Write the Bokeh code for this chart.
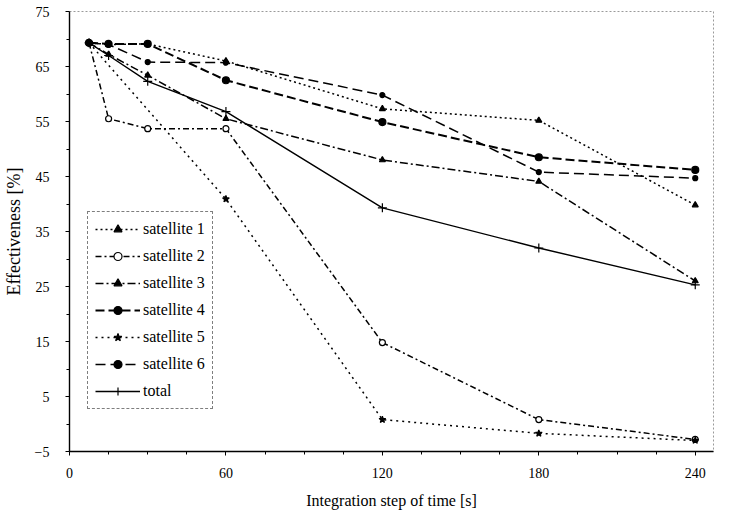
from bokeh.plotting import figure
from bokeh.models import FixedTicker, Legend, LegendItem, Range1d
from bokeh.embed import file_html
from bokeh.resources import INLINE

# ---- data ----
x_steps = [7.5, 15, 30, 60, 120, 180, 240]
sat1 = [69.3, 69.0, 69.1, 66.0, 57.3, 55.2, 39.8]
sat2 = [69.3, 55.5, 53.7, 53.7, 14.8, 0.8, -2.8]
sat3 = [69.3, 67.2, 63.4, 55.5, 48.0, 44.1, 26.0]
sat4 = [69.3, 69.1, 69.1, 62.5, 54.9, 48.5, 46.2]
x_sat5 = [7.5, 60, 120, 180, 240]
sat5 = [69.3, 40.9, 0.8, -1.7, -3.0]
sat6 = [69.3, 69.0, 65.8, 65.7, 59.8, 45.8, 44.7]
total = [69.3, 67.0, 62.3, 56.8, 39.3, 32.0, 25.3]

labels = ["satellite 1", "satellite 2", "satellite 3", "satellite 4",
          "satellite 5", "satellite 6", "total"]
y_ticks = [-5, 5, 15, 25, 35, 45, 55, 65, 75]
x_ticks = [0, 60, 120, 180, 240]

FONT = "Liberation Serif"

p = figure(width=714, height=511, output_backend="svg", toolbar_location=None,
           x_range=Range1d(0, 247), y_range=Range1d(-5, 75),
           min_border_left=67, min_border_right=1, min_border_top=11,
           min_border_bottom=59)
p.background_fill_color = "white"
p.border_fill_color = "white"
p.outline_line_color = "#9a9a9a"
p.outline_line_dash = "2 2"
p.xgrid.visible = False
p.ygrid.visible = False

for ax in (p.xaxis[0], p.yaxis[0]):
    ax.axis_line_color = "black"
    ax.axis_line_width = 1.4
    ax.major_tick_line_color = "black"
    ax.minor_tick_line_color = "black"
    ax.major_tick_in = 0
    ax.major_tick_out = 4
    ax.minor_tick_in = 0
    ax.minor_tick_out = 3
    ax.major_label_text_font = FONT
    ax.major_label_text_font_size = "14px"
    ax.major_label_text_color = "black"
    ax.axis_label_text_font = FONT
    ax.axis_label_text_font_style = "normal"
    ax.axis_label_text_color = "black"

p.xaxis.ticker = FixedTicker(ticks=x_ticks,
                             minor_ticks=[15, 30, 45, 75, 90, 105, 135, 150, 165, 195, 210, 225])
p.yaxis.ticker = FixedTicker(ticks=y_ticks, minor_ticks=[0, 10, 20, 30, 40, 50, 60, 70])
p.xaxis.axis_label = "Integration step of time [s]"
p.yaxis.axis_label = "Effectiveness [%]"
p.xaxis.axis_label_text_font_size = "16px"
p.yaxis.axis_label_text_font_size = "18px"
p.xaxis.major_label_standoff = 12
p.yaxis.major_label_standoff = 16
p.xaxis.axis_label_standoff = 11
p.yaxis.axis_label_standoff = 8

specs = [
    (x_steps, sat1, "2 3", 1.5, "triangle", 6, "black"),
    (x_steps, sat2, "6 3 2 3", 1.5, "circle", 6, "white"),
    (x_steps, sat3, "8 3 2 3", 1.5, "triangle", 6, "black"),
    (x_steps, sat4, "9 4", 2.0, "circle", 7, "black"),
    (x_sat5, sat5, "2 4", 1.5, "star", 7, "black"),
    (x_steps, sat6, "10 5", 1.5, "circle", 5, "black"),
    (x_steps, total, "solid", 1.4, "cross", 9, "black"),
]

items = []
for (xs, ys, dash, lw, mk, sz, fill), lab in zip(specs, labels):
    lr = p.line(xs, ys, line_color="black", line_width=lw, line_dash=dash)
    sr = p.scatter(xs, ys, marker=mk, size=sz, line_color="black",
                   fill_color=fill, line_width=1.2)
    items.append(LegendItem(label=lab, renderers=[lr, sr]))

legend = Legend(items=items, location=(18, 42))
legend.label_text_font = FONT
legend.label_text_font_size = "16px"
legend.label_text_color = "black"
legend.glyph_width = 45
legend.glyph_height = 20
legend.label_height = 20
legend.label_standoff = 3
legend.spacing = 7
legend.padding = 7
legend.margin = 0
legend.border_line_color = "black"
legend.border_line_dash = "6 3"
legend.border_line_width = 1
legend.background_fill_color = "white"
legend.background_fill_alpha = 1
p.add_layout(legend, "center")

open("out.html", "w").write(file_html(p, INLINE))
